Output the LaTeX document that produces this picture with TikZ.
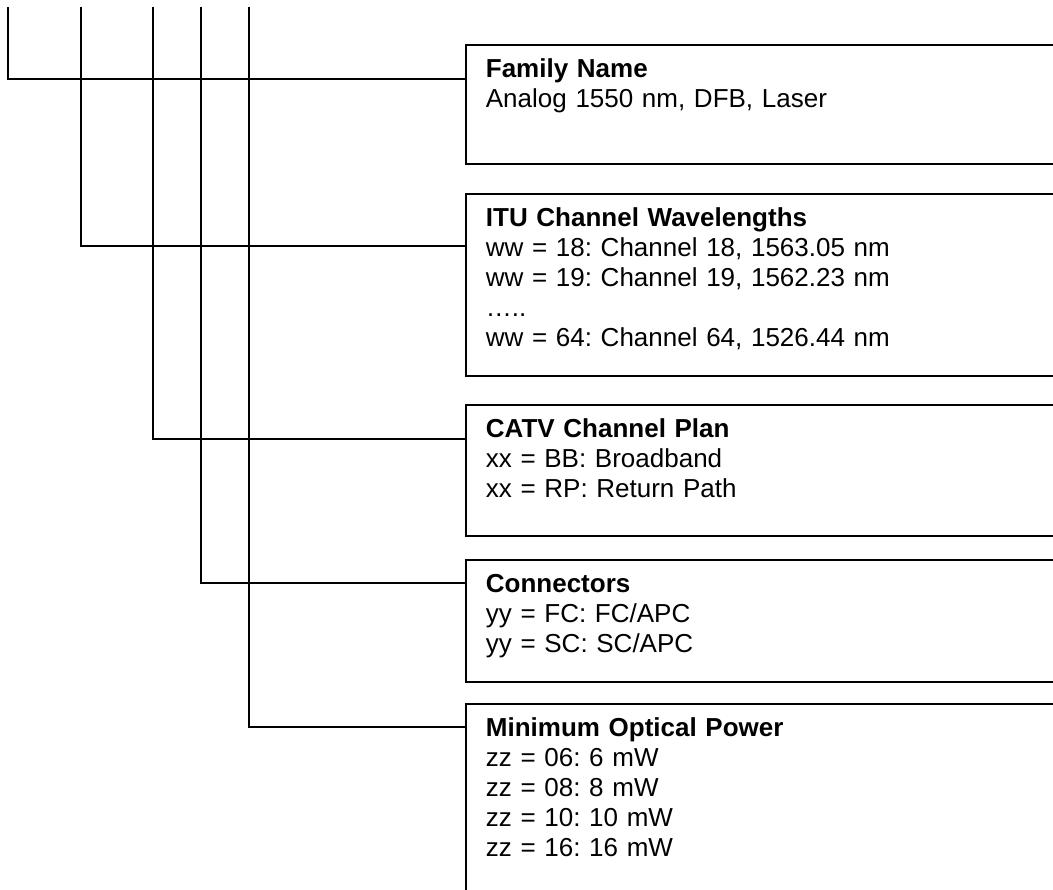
\documentclass[tikz,border=0pt]{standalone}
\usepackage{fontspec}
\setmainfont{Liberation Sans}
\frenchspacing
\newcommand{\boxfont}{\fontsize{26pt}{30pt}\selectfont}
\tikzset{
	infobox/.style={draw, line width=1.8pt, anchor=north west, inner xsep=20pt, inner ysep=0pt, text width=600pt, align=left, font=\boxfont},
	tree/.style={line width=1.8pt}
}
\begin{document}
\begin{tikzpicture}[x=1pt, y=-1pt]
		\clip (0, 0) rectangle (1053, 890);
		
		% Boxes
		\node[infobox] (fam) at (465, 44) {\rule{0pt}{33pt}\textbf{Family Name}\\Analog 1550 nm, DFB, Laser\rule[-56pt]{0pt}{56pt}};
		\node[infobox] (itu) at (465, 193) {\rule{0pt}{33pt}\textbf{ITU Channel Wavelengths}\\ww = 18: Channel 18, 1563.05 nm\\ww = 19: Channel 19, 1562.23 nm\\…..\\ww = 64: Channel 64, 1526.44 nm\rule[-29pt]{0pt}{29pt}};
		\node[infobox] (catv) at (465, 404) {\rule{0pt}{33pt}\textbf{CATV Channel Plan}\\xx = BB: Broadband\\xx = RP: Return Path\rule[-38pt]{0pt}{38pt}};
		\node[infobox] (conn) at (465, 559) {\rule{0pt}{33pt}\textbf{Connectors}\\yy = FC: FC/APC\\yy = SC: SC/APC\rule[-29pt]{0pt}{29pt}};
		\node[infobox] (pow) at (465, 703) {\rule{0pt}{33pt}\textbf{Minimum Optical Power}\\zz = 06: 6 mW\\zz = 08: 8 mW\\zz = 10: 10 mW\\zz = 16: 16 mW\rule[-60pt]{0pt}{60pt}};
		
		% Line tops
		\coordinate (t1) at (8, 7);
		\coordinate (t2) at (81, 7);
		\coordinate (t3) at (153, 7);
		\coordinate (t4) at (201, 7);
		\coordinate (t5) at (249, 7);
		
		% Lines
		\draw[tree] (t1) |- ([yshift=-35pt]fam.north west);
		\draw[tree] (t2) |- ([yshift=-53pt]itu.north west);
		\draw[tree] (t3) |- ([yshift=-35pt]catv.north west);
		\draw[tree] (t4) |- ([yshift=-24pt]conn.north west);
		\draw[tree] (t5) |- ([yshift=-24pt]pow.north west);
		
	\end{tikzpicture}
\end{document}
